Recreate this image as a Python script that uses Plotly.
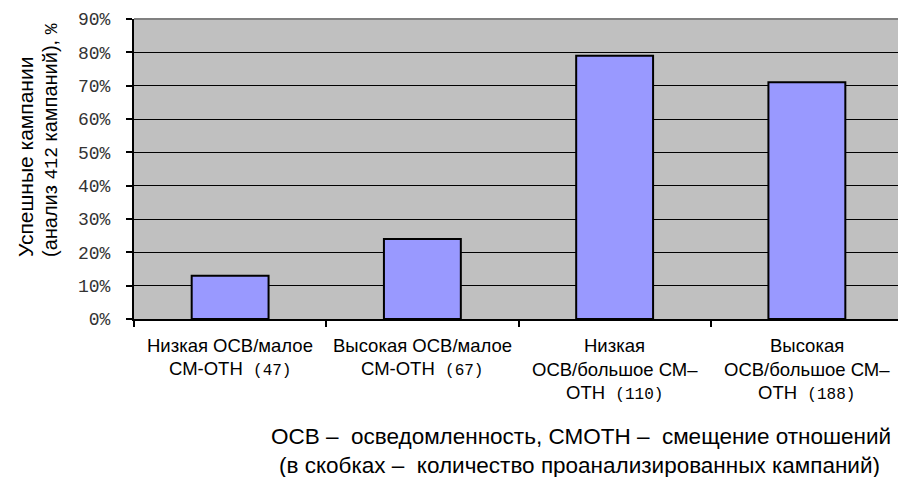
import plotly.graph_objects as go

# ---- data ----
categories = ["Низкая ОСВ/малое СМ-ОТН", "Высокая ОСВ/малое СМ-ОТН",
              "Низкая ОСВ/большое СМ-ОТН", "Высокая ОСВ/большое СМ-ОТН"]
label_lines = [
    ["Низкая ОСВ/малое", "СМ-ОТН"],
    ["Высокая ОСВ/малое", "СМ-ОТН"],
    ["Низкая", "ОСВ/большое СМ–", "ОТН"],
    ["Высокая", "ОСВ/большое СМ–", "ОТН"],
]
campaign_counts = [47, 67, 110, 188]
success_share = [0.13, 0.24, 0.79, 0.71]
y_ticks = [0.0, 0.1, 0.2, 0.3, 0.4, 0.5, 0.6, 0.7, 0.8, 0.9]
y_title_lines = ["Успешные кампании",
                 "(анализ <span style='font-family:Liberation Mono;font-size:18px'>412</span> кампаний), <span style='font-family:Liberation Mono;font-size:18px'>%</span>"]
footnote_lines = ["ОСВ –  осведомленность, СМОТН –  смещение отношений",
                  "(в скобках –  количество проанализированных кампаний)"]

SANS = "Liberation Sans, Arial, sans-serif"
MONO = "Liberation Mono, Courier New, monospace"

fig = go.Figure()
fig.add_trace(go.Bar(
    x=categories, y=success_share,
    marker=dict(color="#9999FF", line=dict(color="black", width=2)),
    width=0.4,
    hoverinfo="skip",
))

annotations = []
line_offsets = [-26, -50, -74]
for cat, lines, n in zip(categories, label_lines, campaign_counts):
    for i, txt in enumerate(lines):
        if i == len(lines) - 1:
            txt = txt + f"  <span style='font-family:Liberation Mono;font-size:16px'>({n})</span>"
        annotations.append(dict(
            x=cat, xref="x", y=0, yref="paper", yshift=line_offsets[i],
            text=txt, showarrow=False, xanchor="center", yanchor="middle",
            font=dict(family=SANS, size=18.5, color="black"),
        ))

annotations.append(dict(x=0, xref="paper", xshift=-109, y=(319 - 157) / 300, yref="paper",
                        text=y_title_lines[0], textangle=-90, showarrow=False,
                        xanchor="center", yanchor="middle",
                        font=dict(family=SANS, size=21, color="black")))
annotations.append(dict(x=0, xref="paper", xshift=-84, y=(319 - 140) / 300, yref="paper",
                        text=y_title_lines[1], textangle=-90, showarrow=False,
                        xanchor="center", yanchor="middle",
                        font=dict(family=SANS, size=20, color="black")))

annotations.append(dict(x=(576 - 134) / 761, xref="paper", y=0, yref="paper", yshift=-117,
                        text=footnote_lines[0], showarrow=False, xanchor="center", yanchor="middle",
                        font=dict(family=SANS, size=22.5, color="black")))
annotations.append(dict(x=(575 - 134) / 761, xref="paper", y=0, yref="paper", yshift=-146,
                        text=footnote_lines[1], showarrow=False, xanchor="center", yanchor="middle",
                        font=dict(family=SANS, size=22.5, color="black")))

# page body has an 8px margin: shrink the figure so that it lands on the 906x477 window
fig.update_layout(
    width=898, height=469,
    margin=dict(l=126, r=3, t=11, b=158),
    paper_bgcolor="white",
    plot_bgcolor="#C0C0C0",
    showlegend=False,
    annotations=annotations,
    shapes=[
        dict(type="line", xref="paper", yref="paper", x0=0, x1=1, y0=1, y1=1,
             line=dict(color="#808080", width=2), layer="above"),
        dict(type="line", xref="paper", yref="paper", x0=1, x1=1, y0=0, y1=1,
             line=dict(color="#808080", width=2), layer="above"),
    ],
    xaxis=dict(
        type="category", range=[-0.5, 3.5], tickson="boundaries",
        ticks="outside", ticklen=6, tickwidth=2, tickcolor="black",
        showticklabels=False, showgrid=False, zeroline=False,
        showline=True, linecolor="black", linewidth=2,
    ),
    yaxis=dict(
        range=[0, 0.9], tickvals=y_ticks, tickformat=".0%",
        ticks="outside", ticklen=6, tickwidth=2, tickcolor="black",
        ticklabelstandoff=12,
        tickfont=dict(family=MONO, size=18, color="#333333"),
        showgrid=True, gridcolor="black", gridwidth=1,
        zeroline=False, showline=True, linecolor="black", linewidth=2,
    ),
)

fig.write_html("out.html")
